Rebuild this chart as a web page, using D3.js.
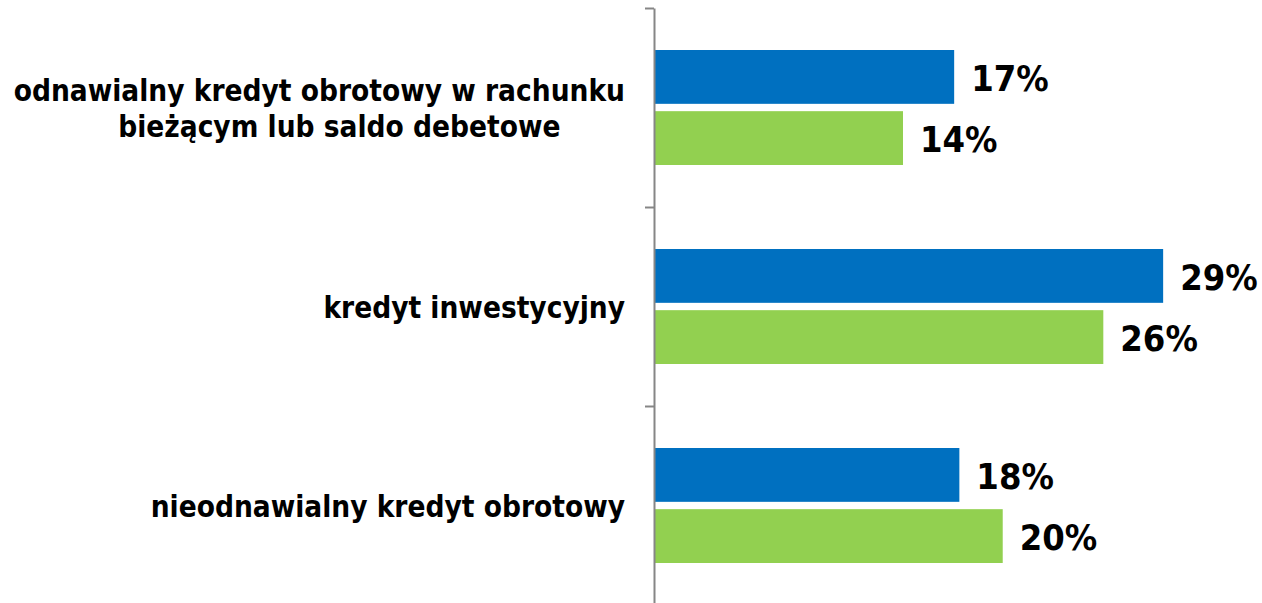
<!DOCTYPE html>
<html>
<head>
<meta charset="utf-8">
<script src="https://cdn.jsdelivr.net/npm/d3@7"></script>
<style>
  html, body { margin: 0; padding: 0; background: #fff; }
  svg { display: block; }
  .cat { font-family: "DejaVu Sans Condensed", "DejaVu Sans", sans-serif; font-stretch: condensed; font-weight: bold; font-size: 29.5px; fill: #000; }
  .val { font-family: "DejaVu Sans Condensed", "DejaVu Sans", sans-serif; font-stretch: condensed; font-weight: bold; font-size: 36px; fill: #000; }
</style>
</head>
<body>
<script>
const categories = ["odnawialny kredyt obrotowy w rachunku bieżącym lub saldo debetowe", "kredyt inwestycyjny", "nieodnawialny kredyt obrotowy"];
const categoryLines = [["odnawialny kredyt obrotowy w rachunku", "bieżącym lub saldo debetowe"], ["kredyt inwestycyjny"], ["nieodnawialny kredyt obrotowy"]];
const seriesNames = ["seria 1", "seria 2"];
const seriesBlue = [17.25, 29.3, 17.55];
const seriesGreen = [14.3, 25.85, 20.05];
const colors = ["#0070C0", "#92D050"];

const W = 1262, H = 603;
const svg = d3.select("body").append("svg").attr("width", W).attr("height", H);

const x = d3.scaleLinear().domain([0, 35]).range([655, 1262]);
const y = d3.scaleBand().domain(categories).range([8, 605]);
const sub = d3.scaleBand().domain(seriesNames).range([42, 157]).paddingInner(0.12);

const rows = categories.map((c, i) => ({ cat: c, lines: categoryLines[i], vals: [seriesBlue[i], seriesGreen[i]] }));

const g = svg.selectAll("g.row").data(rows).enter().append("g").attr("class", "row")
  .attr("transform", d => `translate(0,${y(d.cat)})`);

g.selectAll("rect").data(d => d.vals.map((v, j) => ({ v, s: seriesNames[j], j })))
  .enter().append("rect")
  .attr("x", x(0))
  .attr("y", d => sub(d.s))
  .attr("width", d => x(d.v) - x(0))
  .attr("height", sub.bandwidth())
  .attr("fill", d => colors[d.j]);

g.selectAll("text.val").data(d => d.vals.map((v, j) => ({ v, s: seriesNames[j] })))
  .enter().append("text").attr("class", "val")
  .attr("x", d => x(d.v) + 17)
  .attr("y", d => sub(d.s) + sub.bandwidth() / 2 + 14)
  .text(d => Math.round(d.v) + "%");

// category labels
g.each(function(d) {
  const sel = d3.select(this);
  const cy = y.bandwidth() / 2;
  if (d.lines.length === 1) {
    sel.append("text").attr("class", "cat").attr("x", 625).attr("y", cy + 11).attr("text-anchor", "end").text(d.lines[0]);
  } else {
    const t1 = sel.append("text").attr("class", "cat").attr("x", 625).attr("y", cy - 7).attr("text-anchor", "end").text(d.lines[0]);
    const w1 = t1.node().getComputedTextLength();
    sel.append("text").attr("class", "cat").attr("x", 625 - w1 / 2 + 20).attr("y", cy + 29).attr("text-anchor", "middle").text(d.lines[1]);
  }
});

// axis
const yLin = d3.scaleLinear().domain([0, categories.length]).range([8, 605]);
const axis = svg.append("g").attr("transform", "translate(654,0)")
  .call(d3.axisLeft(yLin).tickValues(d3.range(categories.length + 1)).tickFormat("").tickSize(9).tickSizeOuter(0));
axis.select(".domain").attr("stroke", "#868686").attr("stroke-width", 2);
axis.selectAll(".tick line").attr("stroke", "#868686").attr("stroke-width", 2);
</script>
</body>
</html>
